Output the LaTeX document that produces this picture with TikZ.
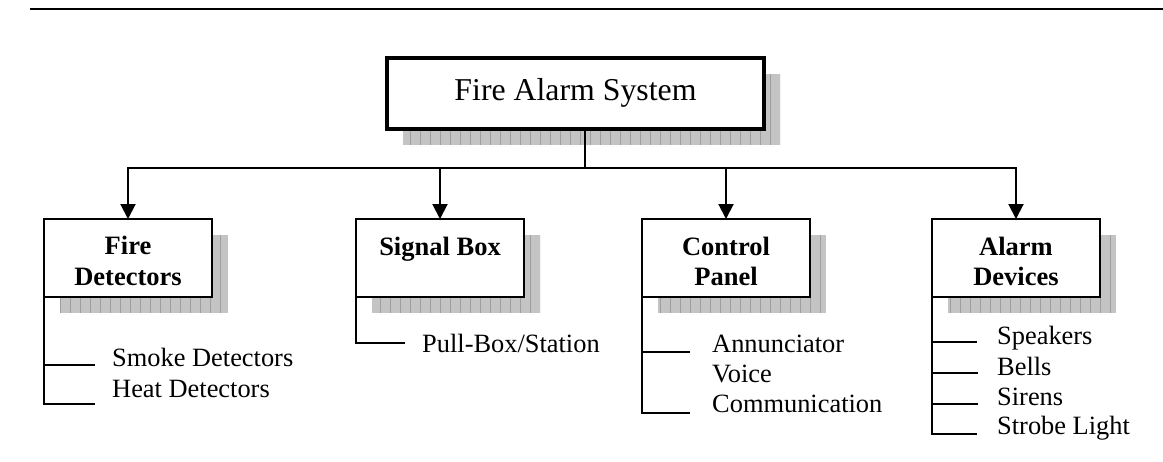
\documentclass[tikz,border=0pt]{standalone}
\usepackage{fontspec}
\setmainfont{Liberation Serif}
\usetikzlibrary{arrows.meta,calc,backgrounds}

\begin{document}
\begin{tikzpicture}[x=1pt,y=-1pt,
  wire/.style={line width=2pt},
  feed/.style={line width=2pt,-{Triangle[length=15pt,width=15pt]}},
  frame/.style={draw, fill=white, line width=2.4pt, minimum width=168pt,
                minimum height=78pt, inner sep=0pt, outer sep=0pt},
  rootframe/.style={frame, line width=3.2pt, minimum width=377pt, minimum height=71pt},
  head/.style={font=\fontsize{26.5}{31}\selectfont\bfseries, inner sep=0pt, anchor=base},
  item/.style={font=\fontsize{26.4}{31}\selectfont, inner sep=0pt, anchor=base west},
  title/.style={font=\fontsize{31.8}{38}\selectfont, inner sep=0pt, anchor=base},
  shadowfill/.style={fill=black!23},
  shadowgrid/.style={draw=black!38, line width=0.7pt},
]
\useasboundingbox (0,0) rectangle (1163,461);

% page header rule
\draw[line width=2pt] (30,9) -- (1163,9);

% root box
\node[rootframe] (sys) at (575.5,93.5) {};
\node[title] (sysT) at (575.5,100) {Fire Alarm System};

% subsystem boxes
\node[frame] (fd) at (128,258) {};
\node[frame] (sb) at (440,258) {};
\node[frame] (cp) at (726,258) {};
\node[frame] (ad) at (1016,258) {};

\node[head] (fd1) at (128,254) {Fire};
\node[head] (fd2) at (128,285) {Detectors};
\node[head] (sb1) at (440,255) {Signal Box};
\node[head] (cp1) at (726,255) {Control};
\node[head] (cp2) at (726,285) {Panel};
\node[head] (ad1) at (1016,255) {Alarm};
\node[head] (ad2) at (1016,285) {Devices};

% hatched drop shadows behind every box
\begin{scope}[on background layer]
  \foreach \b in {sys,fd,sb,cp,ad} {
    \begin{scope}
      \path[shadowfill] ($(\b.south west)+(16,16)$) rectangle ($(\b.north east)+(16,16)$);
      \clip ($(\b.south west)+(16,16)$) rectangle ($(\b.north east)+(16,16)$);
      \draw[shadowgrid, step=10] ($(\b.south west)+(16,16)$) grid ($(\b.north east)+(16,16)$);
    \end{scope}
  }
\end{scope}

% distribution bus and feeds
\coordinate (bus) at (0,168);
\coordinate (tap) at ($(sys.south)+(9.5,0)$);
\draw[wire] (tap) -- (tap |- bus);
\draw[wire, line cap=rect] (fd.north |- bus) -- (ad.north |- bus);
\foreach \b in {fd,sb,cp,ad} \draw[feed] (\b.north |- bus) -- (\b.north);

% Fire Detectors list
\node[item] (fdA) at (112,366) {Smoke Detectors};
\node[item] (fdB) at (112,397) {Heat Detectors};
\draw[wire] (fd.south west) |- (95,404);
\draw[wire] (fd.south west |- 0,365) -- (95,365);

% Signal Box list
\node[item] (sbA) at (422,352) {Pull-Box/Station};
\draw[wire] (sb.south west) |- (405,343);

% Control Panel list
\node[item] (cpA) at (712,352) {Annunciator};
\node[item] (cpB) at (712,382) {Voice};
\node[item] (cpC) at (712,412) {Communication};
\draw[wire] (cp.south west) |- (690,413);
\draw[wire] (cp.south west |- 0,352) -- (690,352);

% Alarm Devices list
\node[item] (adA) at (997,344) {Speakers};
\node[item] (adB) at (997,375) {Bells};
\node[item] (adC) at (997,405) {Sirens};
\node[item] (adD) at (997,434) {Strobe Light};
\draw[wire] (ad.south west) |- (977,434);
\draw[wire] (ad.south west |- 0,342) -- (977,342);
\draw[wire] (ad.south west |- 0,373) -- (978,373);
\draw[wire] (ad.south west |- 0,404) -- (978,404);
\end{tikzpicture}
\end{document}
